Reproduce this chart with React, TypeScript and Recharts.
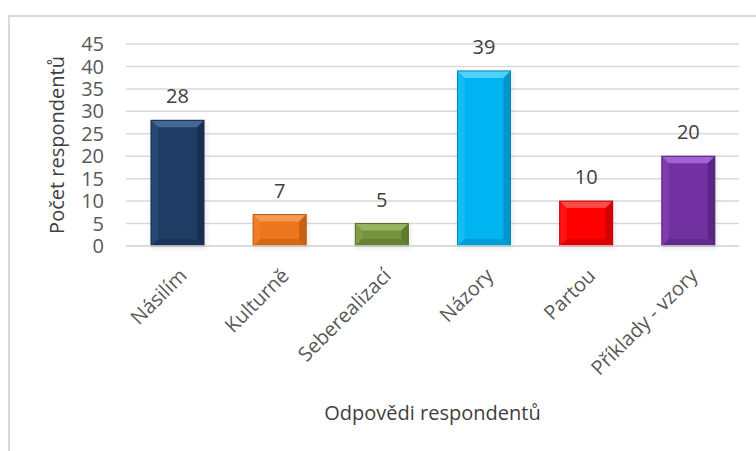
import { BarChart, Bar, XAxis, YAxis, CartesianGrid, LabelList, Cell } from 'recharts'

const categories = ['Násilím', 'Kulturně', 'Seberealizací', 'Názory', 'Partou', 'Příklady - vzory']
const counts = [28, 7, 5, 39, 10, 20]
const yTicks = [0, 5, 10, 15, 20, 25, 30, 35, 40, 45]

// base colour, lighter top bevel, darker bottom bevel
const colors = [
  ['#1f3c64', '#44679a', '#152a47'],
  ['#ec761b', '#f59a50', '#b85810'],
  ['#77933c', '#98b462', '#58702a'],
  ['#00b4f2', '#4fd2fa', '#0088bb'],
  ['#fe0000', '#ff4a4a', '#c00000'],
  ['#7131a1', '#a264d2', '#53217a'],
]

const data = categories.map((name, i) => ({ name, value: counts[i] }))

const font = '"Open Sans", sans-serif'

function BevelBar(props: any) {
  const { x, y, width: w, height: h, index } = props
  if (!h || h <= 0) return null
  const [base, light, dark] = colors[index]
  const b = Math.min(7, h / 2)
  return (
    <g>
      <rect x={x - 1} y={y} width={w + 4} height={h + 3} fill="#000" opacity={0.07} filter="url(#barShadow)" />
      <rect x={x} y={y} width={w} height={h} fill={base} />
      <polygon points={`${x},${y} ${x + w},${y} ${x + w - b},${y + b} ${x + b},${y + b}`} fill={light} />
      <polygon points={`${x},${y + h} ${x + w},${y + h} ${x + w - b},${y + h - b} ${x + b},${y + h - b}`} fill={dark} opacity={0.5} />
      <polygon points={`${x},${y} ${x + b},${y + b} ${x + b},${y + h - b} ${x},${y + h}`} fill={light} opacity={0.25} />
      <polygon points={`${x + w},${y} ${x + w - b},${y + b} ${x + w - b},${y + h - b} ${x + w},${y + h}`} fill={dark} opacity={0.7} />
      <rect x={x} y={y} width={w} height={h} fill="none" stroke={dark} strokeWidth={1} />
    </g>
  )
}

function XTick(props: any) {
  const { x, y, payload } = props
  return (
    <g transform={`translate(${x + 6},${y + 26}) rotate(-45)`}>
      <text textAnchor="end" dy="0.35em" fill="#595959" fontSize={20} fontFamily={font}>
        {payload.value}
      </text>
    </g>
  )
}

export default function App() {
  return (
    <div style={{ position: 'absolute', left: 0, top: 0, width: 756, height: 451, background: '#fff' }}>
      <div
        style={{
          position: 'absolute',
          left: 8,
          top: 15,
          width: 780,
          height: 480,
          border: '2px solid #d9d9d9',
        }}
      />
      <div style={{ position: 'absolute', left: 0, top: 0 }}>
        <BarChart width={756} height={451} data={data} margin={{ top: 44, right: 17, left: 0, bottom: 0 }}>
          <defs>
            <filter id="barShadow" x="-20%" y="-20%" width="140%" height="140%">
              <feGaussianBlur stdDeviation="2" />
            </filter>
          </defs>
          <CartesianGrid vertical={false} stroke="#d9d9d9" strokeWidth={1.5} />
          <XAxis
            dataKey="name"
            interval={0}
            tickLine={false}
            axisLine={{ stroke: '#d9d9d9', strokeWidth: 1.5 }}
            tickSize={0}
            tickMargin={0}
            height={205}
            tick={<XTick />}
            label={{
              value: 'Odpovědi respondentů',
              position: 'insideBottom',
              offset: 31,
              fill: '#404040',
              fontSize: 20,
              fontFamily: font,
            }}
          />
          <YAxis
            domain={[0, 45]}
            ticks={yTicks}
            interval={0}
            width={126}
            tickLine={false}
            axisLine={false}
            tickSize={0}
            tickMargin={22}
            tick={{ fill: '#595959', fontSize: 20, fontFamily: font }}
            label={{
              value: 'Počet respondentů',
              angle: -90,
              position: 'center',
              dx: -6,
              fill: '#404040',
              fontSize: 20,
              fontFamily: font,
            }}
          />
          <Bar dataKey="value" barSize={53} shape={<BevelBar />} isAnimationActive={false}>
            {data.map((d, i) => (
              <Cell key={d.name} fill={colors[i][0]} />
            ))}
            <LabelList dataKey="value" position="top" offset={17} fill="#404040" fontSize={20} fontFamily={font} />
          </Bar>
        </BarChart>
      </div>
    </div>
  )
}
